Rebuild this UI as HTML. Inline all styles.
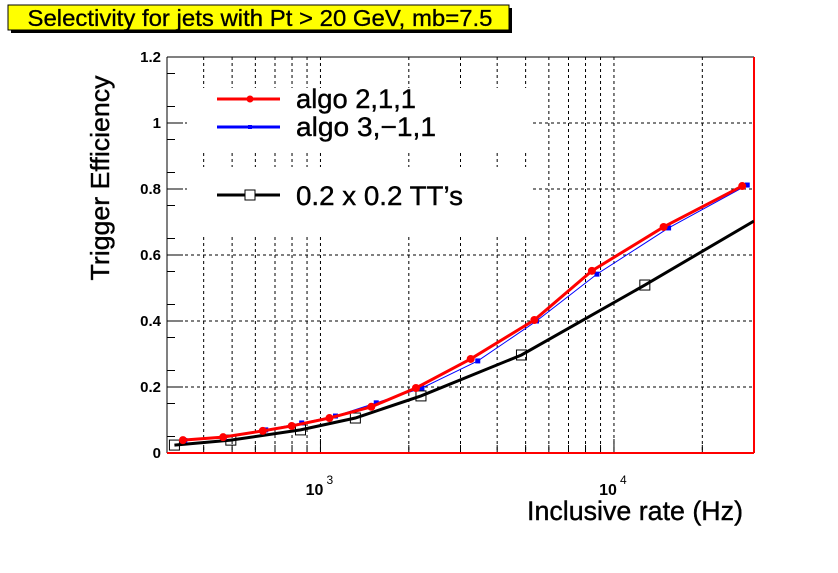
<!DOCTYPE html>
<html><head><meta charset="utf-8"><style>
body{margin:0;background:#fff}
svg text{font-family:"Liberation Sans",sans-serif}
</style></head><body>
<svg id="chart" width="838" height="568" xmlns="http://www.w3.org/2000/svg">
<rect x="0" y="0" width="838" height="568" fill="#fff"/>
<g>
<rect x="11" y="8" width="501" height="25" fill="#000"/>
<rect x="8" y="5" width="501" height="25" fill="#ffff00" stroke="#000" stroke-width="1"/>
<text x="260" y="26" text-anchor="middle" font-size="23" textLength="465" lengthAdjust="spacingAndGlyphs" stroke="#000" stroke-width="0.3">Selectivity for jets with Pt &gt; 20 GeV, mb=7.5</text>
</g>
<g id="grid"></g>
<g id="axes"></g>
<g id="series"></g>
<g>
<rect x="187" y="88" width="344" height="63" fill="#fff"/>
<rect x="187" y="167" width="344" height="69" fill="#fff"/>
<line x1="217" y1="99" x2="280" y2="99" stroke="#f00" stroke-width="3"/>
<circle cx="250" cy="99" r="3.5" fill="#f00"/>
<text x="296" y="108" font-size="27" textLength="120" lengthAdjust="spacingAndGlyphs" stroke="#000" stroke-width="0.4">algo 2,1,1</text>
<line x1="217" y1="127" x2="280" y2="127" stroke="#00f" stroke-width="3"/>
<rect x="248" y="125" width="4" height="4" fill="#00f"/>
<text x="296" y="136" font-size="27" textLength="140" lengthAdjust="spacingAndGlyphs" stroke="#000" stroke-width="0.4">algo 3,−1,1</text>
<line x1="217" y1="195" x2="280" y2="195" stroke="#000" stroke-width="3"/>
<rect x="245" y="190" width="10" height="10" fill="#fff" stroke="#000" stroke-width="1"/>
<text x="296" y="205" font-size="27" textLength="167" lengthAdjust="spacingAndGlyphs" stroke="#000" stroke-width="0.4">0.2 x 0.2 TT’s</text>
</g>
<text transform="translate(109,178) rotate(-90)" text-anchor="middle" font-size="26" textLength="205" lengthAdjust="spacingAndGlyphs" stroke="#000" stroke-width="0.4">Trigger Efficiency</text>
<text x="743" y="520" text-anchor="end" font-size="27" textLength="216" lengthAdjust="spacingAndGlyphs" stroke="#000" stroke-width="0.4">Inclusive rate (Hz)</text>
</svg>
<script>
const redX=[340,466,636,798,1073,1490,2115,3250,5355,8410,14760,27350];
const redY=[0.039,0.048,0.067,0.082,0.106,0.14,0.197,0.285,0.403,0.552,0.685,0.809];
const blueX=[345,470,651,863,1125,1549,2217,3435,5445,8750,15350,28450];
const blueY=[0.038,0.047,0.07,0.091,0.112,0.152,0.197,0.279,0.4,0.542,0.682,0.812];
const blackX=[318,495,855,1315,2200,4840,12740,30000];
const blackY=[0.024,0.039,0.07,0.106,0.173,0.297,0.509,0.703];
const yTicks=[0,0.2,0.4,0.6,0.8,1,1.2];
const yTickLabels=["0","0.2","0.4","0.6","0.8","1","1.2"];
const xTickVals=[400,500,600,700,800,900,1000,2000,3000,4000,5000,6000,7000,8000,9000,10000,20000];

const NS="http://www.w3.org/2000/svg";
const L=167,R=754,T=57,B=453;
const XMIN=300,XMAX=30000,YMIN=0,YMAX=1.2;
function sx(v){return L+(Math.log10(v)-Math.log10(XMIN))/(Math.log10(XMAX)-Math.log10(XMIN))*(R-L);}
function sy(v){return B-(v-YMIN)/(YMAX-YMIN)*(B-T);}
function mk(tag,attrs,parent){const e=document.createElementNS(NS,tag);for(const k in attrs)e.setAttribute(k,attrs[k]);parent.appendChild(e);return e;}
const grid=document.getElementById('grid'),axes=document.getElementById('axes'),ser=document.getElementById('series');

xTickVals.forEach(v=>{const x=sx(v);
 const g=mk('line',{x1:x,y1:T,x2:x,y2:B,stroke:'#000','stroke-width':1,'stroke-dasharray':'3,3'},grid);
 
 
 const major=(v===1000||v===10000);
 const t=mk('line',{x1:x,y1:B,x2:x,y2:B-(major?14:8),stroke:'#000','stroke-width':1},axes);
 
 
});
yTicks.forEach((v,i)=>{const y=sy(v);
 if(v>0&&v<1.2){const g=mk('line',{x1:L,y1:y,x2:R,y2:y,stroke:'#000','stroke-width':1,'stroke-dasharray':'3,3'},grid);
 
 }
 const t=mk('line',{x1:L,y1:y,x2:L+16,y2:y,stroke:'#000'},axes);
 
 
 const lb=mk('text',{x:161,y:y+5,'text-anchor':'end','font-size':15,'font-weight':'bold'},axes);
 lb.textContent=yTickLabels[i];
 
 
});
for(let v=0.05;v<1.2;v+=0.1){const y=sy(v);mk('line',{x1:L,y1:y,x2:L+8,y2:y,stroke:'#000'},axes);}
[[1000,"10"],[10000,"10"]].forEach(([v,s],i)=>{const x=sx(v);
 const tx=mk('text',{x:x-6,y:495,'text-anchor':'middle','font-size':16,'font-weight':'bold'},axes);
 tx.textContent=s;
 
 
 const ex=mk('text',{x:x+6,y:484,'font-size':12},axes);ex.textContent=i===0?"3":"4";
});
mk('line',{x1:L,y1:T,x2:R,y2:T,stroke:'#000'},axes);
mk('line',{x1:L,y1:T,x2:L,y2:B,stroke:'#000'},axes);
mk('line',{x1:L,y1:B,x2:R,y2:B,stroke:'#f00','stroke-width':2},axes);
mk('line',{x1:R,y1:T,x2:R,y2:B,stroke:'#f00','stroke-width':2},axes);

function pts(X,Y){return X.map((v,i)=>sx(v)+','+sy(Y[i])).join(' ');}
const cp=mk('clipPath',{id:'clip'},ser);mk('rect',{x:L,y:T,width:R-L,height:B-T},cp);
const gb=mk('g',{'clip-path':'url(#clip)'},ser);
const lk=mk('polyline',{points:pts(blackX,blackY),fill:'none',stroke:'#000','stroke-width':3},gb);


blackX.forEach((v,i)=>{if(i<blackX.length-1){const m=mk('rect',{x:sx(v)-5,y:sy(blackY[i])-5,width:10,height:10,fill:'none',stroke:'#000'},gb);
 
 }});
const lb2=mk('polyline',{points:pts(blueX,blueY),fill:'none',stroke:'#00f','stroke-width':1},gb);


blueX.forEach((v,i)=>{const m=mk('rect',{x:sx(v)-2.5,y:sy(blueY[i])-2.5,width:5,height:5,fill:'#00f'},gb);
 
 });
const lr=mk('polyline',{points:pts(redX,redY),fill:'none',stroke:'#f00','stroke-width':3},gb);


redX.forEach((v,i)=>{const m=mk('circle',{cx:sx(v),cy:sy(redY[i]),r:4,fill:'#f00'},gb);
 
 });
</script>
</body></html>
